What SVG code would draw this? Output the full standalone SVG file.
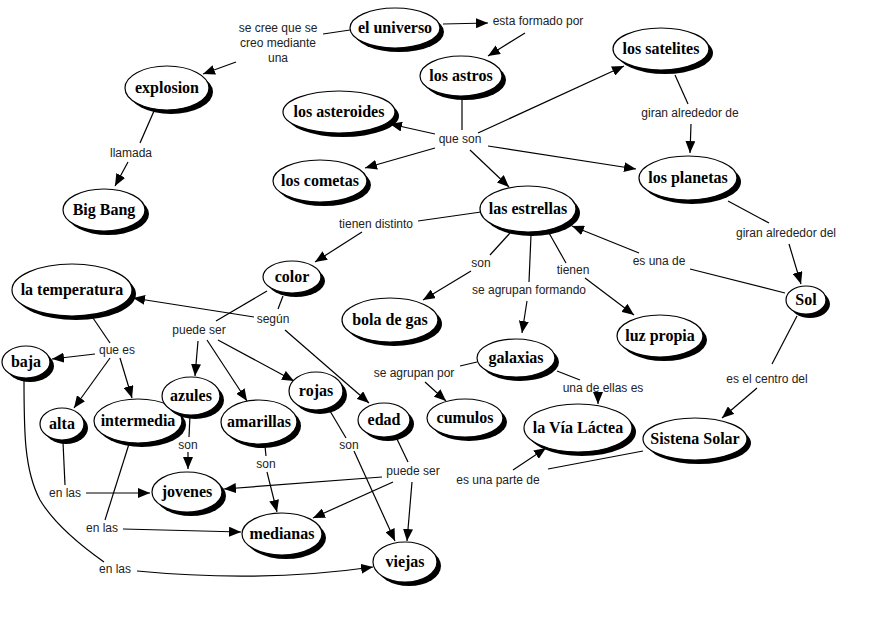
<svg xmlns="http://www.w3.org/2000/svg" width="880" height="622" viewBox="0 0 880 622">
<defs>
<marker id="ah" viewBox="0 0 12 10" refX="12" refY="5" markerWidth="12" markerHeight="10" markerUnits="userSpaceOnUse" orient="auto">
<path d="M0,0 L12,5 L0,10 Z" fill="#000"/>
</marker>
</defs>
<style>
.sh{fill:#000}
.el{fill:#fff;stroke:#000;stroke-width:1.2}
.nt{font-family:"Liberation Serif","DejaVu Serif",serif;font-weight:bold;font-size:16px;fill:#000;text-anchor:middle}
.lb{font-family:"Liberation Sans",Arial,sans-serif;font-size:12px;fill:#222;text-anchor:middle}
.c line,.c path{stroke:#000;stroke-width:1.2;fill:none}
.a{marker-end:url(#ah)}
</style>
<rect width="880" height="622" fill="#fff"/>
<g class="c" id="connectors">
<line x1="350" y1="30" x2="323" y2="34"/>
<line class="a" x1="236" y1="62" x2="203" y2="74"/>
<line class="a" x1="443" y1="24" x2="488" y2="23"/>
<line class="a" x1="525" y1="33" x2="488" y2="56"/>
<line x1="462" y1="97" x2="462" y2="130"/>
<line class="a" x1="435" y1="134" x2="390" y2="124"/>
<line class="a" x1="435" y1="148" x2="365" y2="168"/>
<line class="a" x1="478" y1="133" x2="624" y2="66"/>
<line class="a" x1="488" y1="146" x2="636" y2="169"/>
<line class="a" x1="470" y1="150" x2="509" y2="187"/>
<line x1="675" y1="75" x2="688" y2="104"/>
<line class="a" x1="691" y1="124" x2="690" y2="153"/>
<line x1="154" y1="111" x2="140" y2="143"/>
<line class="a" x1="128" y1="162" x2="115" y2="186"/>
<line x1="481" y1="212" x2="418" y2="221"/>
<line class="a" x1="362" y1="232" x2="315" y2="262"/>
<line x1="510" y1="233" x2="490" y2="255"/>
<line class="a" x1="471" y1="271" x2="423" y2="300"/>
<line x1="531" y1="235" x2="529" y2="282"/>
<line class="a" x1="527" y1="301" x2="522" y2="333"/>
<line x1="549" y1="233" x2="566" y2="263"/>
<line class="a" x1="585" y1="278" x2="634" y2="315"/>
<line x1="785" y1="293" x2="690" y2="269"/>
<line class="a" x1="639" y1="253" x2="572" y2="226"/>
<line x1="728" y1="201" x2="769" y2="223"/>
<line class="a" x1="789" y1="244" x2="801" y2="284"/>
<line x1="797" y1="316" x2="772" y2="364"/>
<line class="a" x1="757" y1="388" x2="722" y2="418"/>
<line x1="643" y1="451" x2="548" y2="469"/>
<line class="a" x1="513" y1="470" x2="546" y2="448"/>
<line x1="557" y1="371" x2="580" y2="380"/>
<line class="a" x1="598" y1="392" x2="598" y2="404"/>
<line x1="477" y1="362" x2="460" y2="366"/>
<line class="a" x1="425" y1="382" x2="446" y2="401"/>
<line x1="267" y1="291" x2="216" y2="321"/>
<line x1="283" y1="296" x2="278" y2="309"/>
<line class="a" x1="254" y1="317" x2="133" y2="298"/>
<line class="a" x1="285" y1="330" x2="369" y2="403"/>
<line class="a" x1="198" y1="341" x2="195" y2="376"/>
<line class="a" x1="207" y1="340" x2="247" y2="401"/>
<line class="a" x1="218" y1="340" x2="294" y2="381"/>
<line x1="93" y1="318" x2="110" y2="343"/>
<line class="a" x1="95" y1="354" x2="52" y2="359"/>
<line class="a" x1="110" y1="358" x2="74" y2="408"/>
<line class="a" x1="120" y1="358" x2="132" y2="398"/>
<line x1="190" y1="415" x2="189" y2="437"/>
<line class="a" x1="188" y1="452" x2="188" y2="469"/>
<line x1="265" y1="446" x2="266" y2="456"/>
<line class="a" x1="267" y1="472" x2="277" y2="512"/>
<line x1="330" y1="411" x2="346" y2="438"/>
<line class="a" x1="354" y1="451" x2="395" y2="541"/>
<line x1="396" y1="437" x2="408" y2="462"/>
<line class="a" x1="382" y1="477" x2="224" y2="489"/>
<line class="a" x1="393" y1="482" x2="313" y2="518"/>
<line class="a" x1="412" y1="482" x2="407" y2="541"/>
<line x1="63" y1="442" x2="65" y2="485"/>
<line class="a" x1="86" y1="493" x2="150" y2="493"/>
<line x1="129" y1="444" x2="105" y2="520"/>
<line class="a" x1="123" y1="529" x2="241" y2="532"/>
<path d="M24,379 C24,430 24,470 40,500 C55,525 80,545 104,562"/>
<path class="a" d="M137,571 Q262,583 373,567"/>
</g>
<g id="n-universo"><ellipse class="sh" cx="399" cy="32" rx="45" ry="20"/><ellipse class="el" cx="395" cy="28" rx="45" ry="20"/><text class="nt" x="395" y="33">el universo</text></g>
<g id="n-astros"><ellipse class="sh" cx="465" cy="80" rx="41" ry="20"/><ellipse class="el" cx="461" cy="76" rx="41" ry="20"/><text class="nt" x="461" y="81">los astros</text></g>
<g id="n-satelites"><ellipse class="sh" cx="665" cy="53" rx="48" ry="21"/><ellipse class="el" cx="661" cy="49" rx="48" ry="21"/><text class="nt" x="661" y="54">los satelites</text></g>
<g id="n-explosion"><ellipse class="sh" cx="171" cy="92" rx="42" ry="22"/><ellipse class="el" cx="167" cy="88" rx="42" ry="22"/><text class="nt" x="167" y="93">explosion</text></g>
<g id="n-asteroides"><ellipse class="sh" cx="343" cy="116" rx="56" ry="21"/><ellipse class="el" cx="339" cy="112" rx="56" ry="21"/><text class="nt" x="339" y="117">los asteroides</text></g>
<g id="n-cometas"><ellipse class="sh" cx="324" cy="185" rx="47" ry="21"/><ellipse class="el" cx="320" cy="181" rx="47" ry="21"/><text class="nt" x="320" y="186">los cometas</text></g>
<g id="n-planetas"><ellipse class="sh" cx="692" cy="182" rx="49" ry="22"/><ellipse class="el" cx="688" cy="178" rx="49" ry="22"/><text class="nt" x="688" y="183">los planetas</text></g>
<g id="n-bigbang"><ellipse class="sh" cx="108" cy="214" rx="41" ry="21"/><ellipse class="el" cx="104" cy="210" rx="41" ry="21"/><text class="nt" x="104" y="215">Big Bang</text></g>
<g id="n-estrellas"><ellipse class="sh" cx="532" cy="213" rx="48" ry="23"/><ellipse class="el" cx="528" cy="209" rx="48" ry="23"/><text class="nt" x="528" y="214">las estrellas</text></g>
<g id="n-color"><ellipse class="sh" cx="296" cy="281" rx="29" ry="16"/><ellipse class="el" cx="292" cy="277" rx="29" ry="16"/><text class="nt" x="292" y="282">color</text></g>
<g id="n-bola"><ellipse class="sh" cx="394" cy="324" rx="48" ry="22"/><ellipse class="el" cx="390" cy="320" rx="48" ry="22"/><text class="nt" x="390" y="325">bola de gas</text></g>
<g id="n-galaxias"><ellipse class="sh" cx="520" cy="362" rx="39" ry="19"/><ellipse class="el" cx="516" cy="358" rx="39" ry="19"/><text class="nt" x="516" y="363">galaxias</text></g>
<g id="n-luz"><ellipse class="sh" cx="664" cy="340" rx="43" ry="21"/><ellipse class="el" cx="660" cy="336" rx="43" ry="21"/><text class="nt" x="660" y="341">luz propia</text></g>
<g id="n-sol"><ellipse class="sh" cx="810" cy="304" rx="20" ry="14"/><ellipse class="el" cx="806" cy="300" rx="20" ry="14"/><text class="nt" x="806" y="305">Sol</text></g>
<g id="n-sistema"><ellipse class="sh" cx="699" cy="443" rx="52" ry="21"/><ellipse class="el" cx="695" cy="439" rx="52" ry="21"/><text class="nt" x="695" y="444">Sistena Solar</text></g>
<g id="n-lactea"><ellipse class="sh" cx="582" cy="432" rx="54" ry="24"/><ellipse class="el" cx="578" cy="428" rx="54" ry="24"/><text class="nt" x="578" y="433">la Vía Láctea</text></g>
<g id="n-cumulos"><ellipse class="sh" cx="469" cy="422" rx="38" ry="19"/><ellipse class="el" cx="465" cy="418" rx="38" ry="19"/><text class="nt" x="465" y="423">cumulos</text></g>
<g id="n-edad"><ellipse class="sh" cx="388" cy="424" rx="26" ry="17"/><ellipse class="el" cx="384" cy="420" rx="26" ry="17"/><text class="nt" x="384" y="425">edad</text></g>
<g id="n-temperatura"><ellipse class="sh" cx="76" cy="294" rx="60" ry="26"/><ellipse class="el" cx="72" cy="290" rx="60" ry="26"/><text class="nt" x="72" y="295">la temperatura</text></g>
<g id="n-baja"><ellipse class="sh" cx="30" cy="366" rx="24" ry="16"/><ellipse class="el" cx="26" cy="362" rx="24" ry="16"/><text class="nt" x="26" y="367">baja</text></g>
<g id="n-alta"><ellipse class="sh" cx="66" cy="428" rx="22" ry="16"/><ellipse class="el" cx="62" cy="424" rx="22" ry="16"/><text class="nt" x="62" y="429">alta</text></g>
<g id="n-intermedia"><ellipse class="sh" cx="142" cy="425" rx="44" ry="22"/><ellipse class="el" cx="138" cy="421" rx="44" ry="22"/><text class="nt" x="138" y="426">intermedia</text></g>
<g id="n-azules"><ellipse class="sh" cx="195" cy="400" rx="29" ry="19"/><ellipse class="el" cx="191" cy="396" rx="29" ry="19"/><text class="nt" x="191" y="401">azules</text></g>
<g id="n-amarillas"><ellipse class="sh" cx="263" cy="426" rx="38" ry="22"/><ellipse class="el" cx="259" cy="422" rx="38" ry="22"/><text class="nt" x="259" y="427">amarillas</text></g>
<g id="n-rojas"><ellipse class="sh" cx="320" cy="395" rx="27" ry="19"/><ellipse class="el" cx="316" cy="391" rx="27" ry="19"/><text class="nt" x="316" y="396">rojas</text></g>
<g id="n-jovenes"><ellipse class="sh" cx="191" cy="496" rx="35" ry="20"/><ellipse class="el" cx="187" cy="492" rx="35" ry="20"/><text class="nt" x="187" y="497">jovenes</text></g>
<g id="n-medianas"><ellipse class="sh" cx="286" cy="538" rx="40" ry="21"/><ellipse class="el" cx="282" cy="534" rx="40" ry="21"/><text class="nt" x="282" y="539">medianas</text></g>
<g id="n-viejas"><ellipse class="sh" cx="409" cy="566" rx="32" ry="20"/><ellipse class="el" cx="405" cy="562" rx="32" ry="20"/><text class="nt" x="405" y="567">viejas</text></g>
<g id="labels">
<text class="lb" x="278" y="32">se cree que se</text>
<text class="lb" x="278" y="47">creo mediante</text>
<text class="lb" x="278" y="62">una</text>
<text class="lb" x="538" y="25">esta formado por</text>
<text class="lb" x="460" y="143">que son</text>
<text class="lb" x="690" y="117">giran alrededor de</text>
<text class="lb" x="131" y="157">llamada</text>
<text class="lb" x="376" y="228">tienen distinto</text>
<text class="lb" x="481" y="267">son</text>
<text class="lb" x="573" y="274">tienen</text>
<text class="lb" x="529" y="294">se agrupan formando</text>
<text class="lb" x="659" y="265">es una de</text>
<text class="lb" x="786" y="237">giran alrededor del</text>
<text class="lb" x="199" y="334">puede ser</text>
<text class="lb" x="273" y="323">según</text>
<text class="lb" x="117" y="354">que es</text>
<text class="lb" x="414" y="377">se agrupan por</text>
<text class="lb" x="603" y="392">una de ellas es</text>
<text class="lb" x="767" y="383">es el centro del</text>
<text class="lb" x="498" y="484">es una parte de</text>
<text class="lb" x="188" y="449">son</text>
<text class="lb" x="266" y="468">son</text>
<text class="lb" x="349" y="449">son</text>
<text class="lb" x="413" y="475">puede ser</text>
<text class="lb" x="65" y="497">en las</text>
<text class="lb" x="102" y="532">en las</text>
<text class="lb" x="115" y="573">en las</text>
</g>
</svg>
